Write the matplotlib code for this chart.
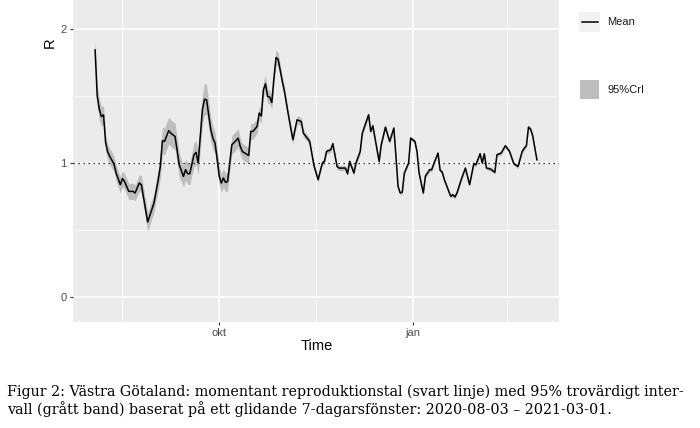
"""
Västra Götaland: momentant reproduktionstal med 95% trovärdigt intervall
"""
import datetime as dt
import numpy as np
import matplotlib
matplotlib.use('Agg')
import matplotlib.pyplot as plt
import matplotlib.dates as mdates
from matplotlib.patches import Rectangle
from matplotlib.lines import Line2D

plt.rcParams['font.family'] = ['Liberation Sans', 'DejaVu Sans']

START = dt.date(2020, 8, 3)

# day offset from START
days = [0, 1, 2, 3, 4, 5, 6, 7, 9, 10,
        12, 13, 14, 16, 18, 19, 21, 22, 25, 28,
        30, 31, 32, 33, 35, 36, 38, 40, 42, 43,
        44, 45, 47, 48, 49, 51, 52, 53, 55, 56,
        57, 58, 59, 60, 61, 62, 63, 65, 67, 68,
        69, 70, 73, 74, 75, 77, 78, 79, 80, 81,
        82, 83, 84, 85, 86, 87, 89, 90, 92, 94,
        96, 98, 99, 100, 102, 104, 106, 108, 109, 110,
        112, 113, 115, 116, 119, 120, 121, 123, 124, 126,
        127, 130, 131, 132, 135, 136, 138, 140, 142, 143,
        144, 145, 146, 147, 149, 150, 152, 153, 154, 156,
        157, 159, 160, 161, 163, 164, 165, 166, 169, 170,
        171, 172, 174, 176, 178, 180, 181, 183, 184, 185,
        186, 188, 190, 191, 193, 195, 197, 199, 201, 203,
        204, 205, 206, 207, 208, 210]

r_mean = [1.843, 1.50, 1.40, 1.345, 1.358, 1.15, 1.08, 1.047, 0.99, 0.923,
          0.836, 0.881, 0.86, 0.786, 0.786, 0.774, 0.848, 0.836, 0.557, 0.70,
          0.873, 0.972, 1.165, 1.159, 1.24, 1.221, 1.196, 0.985, 0.898, 0.948,
          0.918, 0.918, 1.06, 1.077, 1.0, 1.396, 1.475, 1.47, 1.246, 1.184,
          1.147, 1.03, 0.90, 0.848, 0.886, 0.853, 0.86, 1.134, 1.166, 1.184,
          1.122, 1.084, 1.054, 1.234, 1.234, 1.271, 1.371, 1.35, 1.545, 1.59,
          1.495, 1.49, 1.45, 1.632, 1.786, 1.773, 1.607, 1.532, 1.346, 1.172,
          1.321, 1.308, 1.221, 1.201, 1.159, 0.98, 0.873, 0.998, 1.01, 1.084,
          1.097, 1.142, 0.972, 0.96, 0.96, 0.918, 1.01, 0.923, 0.998, 1.084,
          1.221, 1.358, 1.234, 1.276, 1.01, 1.134, 1.266, 1.159, 1.259, 1.047,
          0.823, 0.774, 0.78, 0.923, 0.998, 1.184, 1.159, 1.084, 0.923, 0.774,
          0.9, 0.948, 0.948, 0.993, 1.072, 0.943, 0.93, 0.873, 0.749, 0.761,
          0.744, 0.774, 0.873, 0.96, 0.836, 0.993, 0.985, 1.067, 0.998, 1.067,
          0.96, 0.953, 0.928, 1.06, 1.072, 1.127, 1.084, 0.993, 0.972, 1.084,
          1.109, 1.127, 1.266, 1.251, 1.201, 1.022]

# half width of the 95% CrI band
ci_half = [.09, .08, .08, .07, .07, .06, .06, .06, .06, .06,
           .06, .06, .06, .06, .06, .06, .06, .07, .07, .07,
           .08, .09, .10, .10, .10, .10, .10, .09, .08, .08,
           .08, .08, .09, .09, .09, .11, .12, .11, .09, .09,
           .08, .08, .07, .07, .07, .07, .07, .07, .07, .07,
           .06, .06, .06, .06, .06, .05, .05, .05, .06, .06,
           .05, .05, .05, .05, .06, .05, .04, .04, .03, .03,
           .03, .03, .03, .025, .025, .02, .02, .02, .02, .02,
           .02, .02, .02, .02, .02, .02, .02, .02, .02, .02,
           .02, .02, .02, .02, .02, .02, .02, .02, .02, .02,
           .015, .015, .015, .015, .015, .015, .015, .015, .015, .015,
           .015, .015, .015, .015, .015, .015, .015, .015, .015, .015,
           .015, .015, .015, .015, .015, .015, .015, .015, .015, .015,
           .015, .015, .015, .015, .015, .015, .015, .015, .015, .015,
           .015, .015, .015, .015, .015, .015]

y_ticks = [0, 1, 2]
x_tick_dates = [dt.date(2020, 10, 1), dt.date(2021, 1, 1)]
x_tick_labels = ['okt', 'jan']
x_minor_dates = [dt.date(2020, 8, 16), dt.date(2020, 11, 16), dt.date(2021, 2, 15)]

caption = ("Figur 2: Västra Götaland: momentant reproduktionstal (svart linje) med 95% trovärdigt inter-\n"
           "vall (grått band) baserat på ett glidande 7-dagarsfönster: 2020-08-03 – 2021-03-01.")

x0 = mdates.date2num(START)
x = x0 + np.array(days, dtype=float)
m = np.array(r_mean)
hw = np.array(ci_half)

fig = plt.figure(figsize=(7, 4.28), dpi=100)
ax = fig.add_axes([73 / 700, 1 - 322 / 428, (559 - 73) / 700, 322 / 428])
ax.set_facecolor('#EBEBEB')
for s in ax.spines.values():
    s.set_visible(False)

# grid (ggplot style)
for yv in [-0.5, 0.5, 1.5]:
    ax.axhline(yv, color='white', lw=0.55, zorder=0)
for yv in y_ticks:
    ax.axhline(yv, color='white', lw=1.1, zorder=0)
for d in x_minor_dates:
    ax.axvline(mdates.date2num(d), color='white', lw=0.55, zorder=0)
for d in x_tick_dates:
    ax.axvline(mdates.date2num(d), color='white', lw=1.1, zorder=0)

ax.fill_between(x, m - hw, m + hw, color='#BEBEBE', lw=0, zorder=1)
ax.plot(x, m, color='black', lw=1.1, zorder=3)
ax.axhline(1, color='black', lw=0.9, linestyle=(0, (1, 3)), zorder=2)

span = x[-1] - x[0]
ax.set_xlim(x[0] - 0.05 * span, x[-1] + 0.05 * span)
ax.set_ylim(-0.19, 2.216)

ax.set_yticks(y_ticks)
ax.set_yticklabels([str(v) for v in y_ticks])
ax.set_xticks([mdates.date2num(d) for d in x_tick_dates])
ax.set_xticklabels(x_tick_labels)
ax.tick_params(axis='both', colors='#333333', labelcolor='#4D4D4D', labelsize=8,
               length=2.5, width=0.8, pad=2)

fig.text(317 / 700, 1 - 346 / 428, 'Time', ha='center', va='center', fontsize=10.5, color='black')
fig.text(50 / 700, 1 - 43 / 428, 'R', ha='center', va='center', fontsize=10.5,
         rotation=90, color='black')

# legend (drawn by hand, two separate keys)
fig.patches.append(Rectangle((579 / 700, 1 - 32 / 428), 21 / 700, 20 / 428,
                             transform=fig.transFigure, facecolor='#F2F2F2', edgecolor='none'))
fig.lines.append(Line2D([582 / 700, 598 / 700], [1 - 22 / 428, 1 - 22 / 428],
                        transform=fig.transFigure, color='black', lw=1.1))
fig.text(607 / 700, 1 - 22 / 428, 'Mean', ha='left', va='center', fontsize=8, color='#1A1A1A')
fig.patches.append(Rectangle((580 / 700, 1 - 99 / 428), 19 / 700, 19 / 428,
                             transform=fig.transFigure, facecolor='#BEBEBE', edgecolor='none'))
fig.text(607 / 700, 1 - 90 / 428, '95%CrI', ha='left', va='center', fontsize=8, color='#1A1A1A')

fig.text(7 / 700, 1 - 401 / 428, caption, ha='left', va='center', fontsize=10.3,
         family='DejaVu Serif', linespacing=1.2, color='black')

fig.savefig('out.png', dpi=100)
